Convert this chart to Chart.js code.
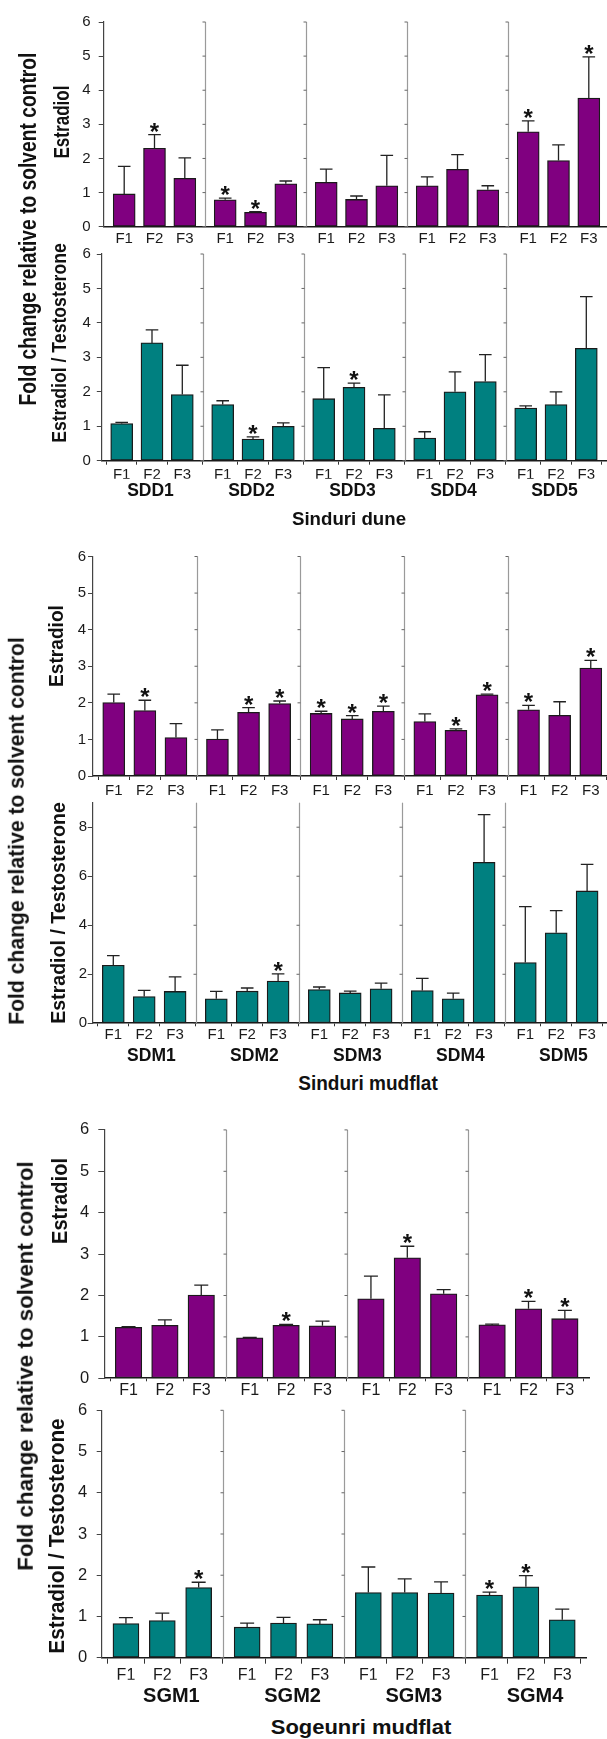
<!DOCTYPE html>
<html>
<head>
<meta charset="utf-8">
<script src="https://cdn.jsdelivr.net/npm/chart.js@4.4.1/dist/chart.umd.min.js"></script>
<style>
  html, body { margin: 0; padding: 0; background: #fff; }
  #fig { position: relative; width: 607px; height: 1739px; overflow: hidden; background: #fff; }
  #fig canvas { position: absolute; left: 0; }
  .lbl { position: absolute; white-space: nowrap; font-family: 'Liberation Sans', Arial, sans-serif;
         font-weight: bold; color: #111; line-height: 1; transform-origin: 50% 50%; }
</style>
</head>
<body>
<div id="fig"></div>
<script>
// ---- categories ----
const fractions = ['F1', 'F2', 'F3'];
const duneSites = ['SDD1', 'SDD2', 'SDD3', 'SDD4', 'SDD5'];
const mudSites  = ['SDM1', 'SDM2', 'SDM3', 'SDM4', 'SDM5'];
const sogSites  = ['SGM1', 'SGM2', 'SGM3', 'SGM4'];

// ---- Sinduri dune: estradiol fold change (mean, error, significance) ----
const sddE2    = [[0.96, 2.30, 1.42], [0.79, 0.42, 1.26], [1.30, 0.80, 1.20], [1.20, 1.68, 1.08], [2.78, 1.94, 3.77]];
const sddE2Err = [[0.81, 0.40, 0.60], [0.05, 0.02, 0.08], [0.39, 0.10, 0.89], [0.26, 0.43, 0.12], [0.32, 0.46, 1.21]];
const sddE2Sig = [[0, 1, 0], [1, 1, 0], [0, 0, 0], [0, 0, 0], [1, 0, 1]];

// ---- Sinduri dune: estradiol / testosterone ----
const sddRatio    = [[1.08, 3.42, 1.92], [1.63, 0.63, 1.00], [1.80, 2.13, 0.94], [0.66, 2.00, 2.30], [1.53, 1.63, 3.26]];
const sddRatioErr = [[0.03, 0.38, 0.85], [0.11, 0.06, 0.10], [0.90, 0.12, 0.97], [0.18, 0.58, 0.78], [0.06, 0.37, 1.50]];
const sddRatioSig = [[0, 0, 0], [0, 1, 0], [0, 1, 0], [0, 0, 0], [0, 0, 0]];

// ---- Sinduri mudflat: estradiol ----
const sdmE2    = [[2.01, 1.79, 1.05], [1.01, 1.74, 1.98], [1.71, 1.56, 1.77], [1.49, 1.25, 2.22], [1.81, 1.66, 2.95]];
const sdmE2Err = [[0.23, 0.28, 0.38], [0.25, 0.13, 0.07], [0.06, 0.09, 0.14], [0.21, 0.04, 0.02], [0.12, 0.37, 0.21]];
const sdmE2Sig = [[0, 1, 0], [0, 1, 1], [1, 1, 1], [0, 1, 1], [1, 0, 1]];

// ---- Sinduri mudflat: estradiol / testosterone ----
const sdmRatio    = [[2.37, 1.09, 1.30], [1.00, 1.31, 1.72], [1.38, 1.24, 1.41], [1.34, 1.00, 6.57], [2.48, 3.69, 5.40]];
const sdmRatioErr = [[0.39, 0.25, 0.59], [0.30, 0.13, 0.30], [0.10, 0.07, 0.23], [0.49, 0.23, 1.94], [2.28, 0.91, 1.08]];
const sdmRatioSig = [[0, 0, 0], [0, 0, 1], [0, 0, 0], [0, 0, 0], [0, 0, 0]];

// ---- Sogeunri mudflat: estradiol ----
const sgmE2    = [[1.23, 1.28, 2.01], [0.98, 1.28, 1.27], [1.92, 2.91, 2.04], [1.29, 1.68, 1.44]];
const sgmE2Err = [[0.02, 0.13, 0.24], [0.01, 0.02, 0.11], [0.55, 0.28, 0.10], [0.02, 0.18, 0.20]];
const sgmE2Sig = [[0, 0, 0], [0, 1, 0], [0, 1, 0], [0, 1, 1]];

// ---- Sogeunri mudflat: estradiol / testosterone ----
const sgmRatio    = [[0.83, 0.90, 1.70], [0.74, 0.84, 0.82], [1.58, 1.58, 1.57], [1.52, 1.72, 0.92]];
const sgmRatioErr = [[0.14, 0.18, 0.13], [0.10, 0.14, 0.10], [0.62, 0.33, 0.27], [0.07, 0.27, 0.26]];
const sgmRatioSig = [[0, 0, 1], [0, 0, 0], [0, 0, 0], [1, 1, 0]];

// ---- y-axis tick steps ----
const ticksSixStep  = 1;
const ticksNineStep = 2;

const FONT = "'Liberation Sans', Arial, sans-serif";
const PURPLE = '#800080';
const TEAL = '#008080';
const slot = [0.2, 0.5, 0.8];   // bar centres inside one site block
const W = 607;
const fig = document.getElementById('fig');
Chart.defaults.font.family = FONT;

const panels = [
  { sites: duneSites, values: sddE2, err: sddE2Err, sig: sddE2Sig, color: PURPLE,
    top: 19.3, bottom: 226.7, axisX: 104, groupPx: 101, yMax: 6, yStep: ticksSixStep,
    yTick: 5.3, yPad: 8, yFont: 15, bar: 22, xTick: 0, xPad: 3.1, fFont: 15, xH: 22 },
  { sites: duneSites, values: sddRatio, err: sddRatioErr, sig: sddRatioSig, color: TEAL,
    top: 253.3, bottom: 460.7, axisX: 101.5, groupPx: 101, yMax: 6, yStep: ticksSixStep,
    yTick: 4.7, yPad: 6, yFont: 15, bar: 22, xTick: 4, xPad: 1.3, fFont: 15, xH: 18,
    groupLabels: true, gOff: 0.485, gFont: 17.5, gPad: 1.8, gH: 26 },
  { sites: mudSites, values: sdmE2, err: sdmE2Err, sig: sdmE2Sig, color: PURPLE,
    top: 556.5, bottom: 776, axisX: 93, groupPx: 103.7, yMax: 6, yStep: ticksSixStep,
    yTick: 5, yPad: 2, yFont: 15, bar: 22, xTick: 4, xPad: 2, fFont: 15, xH: 22 },
  { sites: mudSites, values: sdmRatio, err: sdmRatioErr, sig: sdmRatioSig, color: TEAL,
    top: 802.7, bottom: 1023.3, axisX: 92.7, groupPx: 103, yMax: 9, yStep: ticksNineStep,
    yTick: 5, yPad: 0.5, yFont: 15, bar: 22, xTick: 3, xPad: 0, fFont: 15, xH: 18,
    groupLabels: true, gOff: 0.57, gFont: 17.5, gPad: 4.2, gH: 26 },
  { sites: sogSites, values: sgmE2, err: sgmE2Err, sig: sgmE2Sig, color: PURPLE,
    top: 1125.5, bottom: 1378.3, axisX: 104.3, groupPx: 121.2, yMax: 6, yStep: ticksSixStep,
    yTick: 6, yPad: 9, yFont: 16.5, bar: 26.5, xTick: 3, xPad: 0, fFont: 16, xH: 20 },
  { sites: sogSites, values: sgmRatio, err: sgmRatioErr, sig: sgmRatioSig, color: TEAL,
    top: 1405, bottom: 1657.7, axisX: 101.7, groupPx: 121.2, yMax: 6, yStep: ticksSixStep,
    yTick: 5, yPad: 9.4, yFont: 16.5, bar: 26, xTick: 6, xPad: 2.4, fFont: 16, xH: 22,
    groupLabels: true, gOff: 0.575, gFont: 20, gPad: 4.3, gH: 30 }
];

function makePanel(p) {
  const nG = p.sites.length;
  const right = Math.min(W, p.axisX + nG * p.groupPx);
  const xMax = (right - p.axisX) / p.groupPx;
  const canvasTop = Math.floor(p.top) - 14;
  const padT = p.top - canvasTop;
  const plotH = p.bottom - p.top;
  const gH = p.groupLabels ? p.gH : 0;
  const canvasH = Math.ceil(padT + plotH + p.xH + gH + 3);
  const padB = canvasH - (padT + plotH + p.xH + gH);

  const cv = document.createElement('canvas');
  cv.width = W; cv.height = canvasH;
  cv.style.top = canvasTop + 'px';
  cv.style.width = W + 'px'; cv.style.height = canvasH + 'px';
  fig.appendChild(cv);

  const points = [];
  p.values.forEach((grp, g) => grp.forEach((v, f) => points.push({ x: g + slot[f], y: v })));

  const decor = {
    id: 'decor',
    beforeDatasetsDraw(chart) {
      const { ctx, chartArea: a, scales: { x, y } } = chart;
      ctx.save();
      for (let g = 1; g < nG; g++) {
        const px = Math.round(x.getPixelForValue(g)) + 0.5;
        ctx.strokeStyle = '#9a9a9a';
        ctx.lineWidth = 1.2;
        ctx.beginPath(); ctx.moveTo(px, a.top); ctx.lineTo(px, a.bottom); ctx.stroke();
        ctx.strokeStyle = '#666';
        ctx.lineWidth = 1;
        y.ticks.forEach(t => {
          const py = y.getPixelForValue(t.value);
          ctx.beginPath(); ctx.moveTo(px - 3, py); ctx.lineTo(px, py); ctx.stroke();
        });
      }
      ctx.restore();
    },
    afterDatasetsDraw(chart) {
      const { ctx, scales: { y } } = chart;
      const meta = chart.getDatasetMeta(0);
      ctx.save();
      const half = p.bar > 24 ? 7 : 6.3;
      meta.data.forEach((bar, i) => {
        const g = Math.floor(i / 3), f = i % 3;
        const v = p.values[g][f], e = p.err[g][f];
        const yTop = y.getPixelForValue(v);
        const yCap = y.getPixelForValue(v + e);
        const bx = bar.x;
        ctx.strokeStyle = '#222';
        ctx.lineWidth = 1.3;
        ctx.beginPath();
        ctx.moveTo(bx, yTop); ctx.lineTo(bx, yCap);
        ctx.moveTo(bx - half, yCap); ctx.lineTo(bx + half, yCap);
        ctx.stroke();
        if (p.sig[g][f]) {
          ctx.font = 'bold 24px ' + FONT;
          ctx.fillStyle = '#111';
          ctx.textAlign = 'center';
          ctx.textBaseline = 'alphabetic';
          const m = ctx.measureText('*');
          const inkMid = (m.actualBoundingBoxAscent - m.actualBoundingBoxDescent) / 2;
          ctx.fillText('*', bx, yCap - 7.5 + inkMid);
        }
      });
      ctx.restore();
    }
  };

  const scales = {
    x: {
      type: 'linear', position: 'bottom', min: 0, max: xMax, offset: false, bounds: 'data', weight: 0,
      afterBuildTicks: s => { s.ticks = points.map(pt => ({ value: pt.x })); },
      afterFit: s => { s.height = p.xH; },
      ticks: {
        autoSkip: false, maxRotation: 0, minRotation: 0, padding: p.xPad, color: '#1a1a1a',
        font: { family: FONT, size: p.fFont },
        callback: (v, i) => fractions[i % fractions.length]
      },
      grid: { drawOnChartArea: false, drawTicks: p.xTick > 0, tickLength: p.xTick, tickColor: '#333', tickWidth: 1 },
      border: { display: true, color: '#1a1a1a', width: 1.6 }
    },
    y: {
      type: 'linear', position: 'left', min: 0, max: p.yMax,
      afterFit: s => { s.width = p.axisX; },
      ticks: {
        stepSize: p.yStep, includeBounds: false, padding: p.yPad, color: '#1a1a1a',
        font: { family: FONT, size: p.yFont }
      },
      grid: { drawOnChartArea: false, drawTicks: true, tickLength: p.yTick, tickColor: '#444', tickWidth: 1 },
      border: { display: true, color: '#444', width: 1.2 }
    }
  };
  if (p.groupLabels) {
    scales.g = {
      type: 'linear', position: 'bottom', min: 0, max: xMax, offset: false, bounds: 'data', weight: 1,
      afterBuildTicks: s => { s.ticks = p.sites.map((_, i) => ({ value: i + p.gOff })); },
      afterFit: s => { s.height = p.gH; },
      ticks: {
        autoSkip: false, maxRotation: 0, minRotation: 0, padding: p.gPad, color: '#111',
        font: { family: FONT, size: p.gFont, weight: 'bold' },
        callback: (v, i) => p.sites[i]
      },
      grid: { display: false, drawOnChartArea: false, drawTicks: false },
      border: { display: false }
    };
  }

  new Chart(cv, {
    type: 'bar',
    data: {
      datasets: [{
        data: points,
        backgroundColor: p.color,
        borderColor: '#1a1a1a',
        borderWidth: 1.3,
        borderSkipped: false,
        barThickness: p.bar,
        clip: false
      }]
    },
    options: {
      responsive: false,
      animation: false,
      events: [],
      layout: { padding: { top: padT, bottom: padB, left: 0, right: W - right } },
      plugins: { legend: { display: false }, tooltip: { enabled: false } },
      scales
    },
    plugins: [decor]
  });
}

panels.forEach(makePanel);

// ---- axis titles and site captions ----
function addLabel(text, cx, cy, size, length, rotated) {
  const d = document.createElement('div');
  d.className = 'lbl';
  d.textContent = text;
  d.style.fontSize = size + 'px';
  fig.appendChild(d);
  const natural = d.offsetWidth;
  const s = length ? length / natural : 1;
  d.style.left = cx + 'px';
  d.style.top = cy + 'px';
  d.style.transform = 'translate(-50%,-50%)' + (rotated ? ' rotate(-90deg)' : '') + ' scaleX(' + s + ')';
}

const foldTitle = 'Fold change relative to solvent control';
const e2Title = 'Estradiol';
const ratioTitle = 'Estradiol / Testosterone';

addLabel(foldTitle, 28, 228.5, 23, 353, true);
addLabel(e2Title, 62, 121.7, 22, 73, true);
addLabel(ratioTitle, 58, 343.3, 21, 200, true);
addLabel('Sinduri dune', 349, 518.3, 19, 114, false);

addLabel(foldTitle, 16.5, 831, 22.5, 388, true);
addLabel(e2Title, 55, 646, 21, 82, true);
addLabel(ratioTitle, 57, 913, 21, 222, true);
addLabel('Sinduri mudflat', 368, 1084, 19.5, 139.5, false);

addLabel(foldTitle, 26, 1366.4, 22.5, 410, true);
addLabel(e2Title, 61, 1201, 21.5, 86, true);
addLabel(ratioTitle, 58.3, 1535.8, 21.5, 235, true);
addLabel('Sogeunri mudflat', 361, 1727, 20, 180, false);
</script>
</body>
</html>
